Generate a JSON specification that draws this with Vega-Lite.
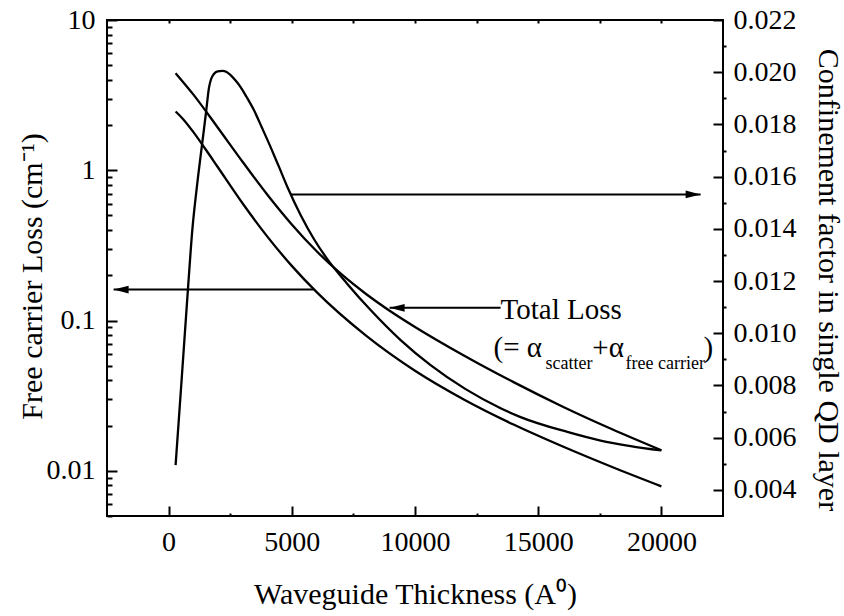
{
  "$schema": "https://vega.github.io/schema/vega-lite/v6.json",
  "width": 616,
  "height": 496,
  "autosize": {"type": "none"},
  "padding": {"left": 107, "top": 20, "right": 121, "bottom": 100},
  "background": "white",
  "config": {
    "view": {"stroke": "black", "strokeWidth": 2},
    "font": "Times New Roman, Liberation Serif, serif",
    "axis": {
      "domain": false,
      "grid": false,
      "tickColor": "black",
      "tickWidth": 2,
      "labelFont": "Times New Roman, Liberation Serif, serif",
      "labelFontSize": 28,
      "labelColor": "black",
      "labelFlush": false,
      "labelOverlap": false,
      "titleFont": "Times New Roman, Liberation Serif, serif",
      "titleFontSize": 30,
      "titleFontWeight": "normal",
      "titleColor": "black"
    }
  },
  "datasets": {
    "freeCarrier": [
      {"thickness": 284, "loss": 2.46},
      {"thickness": 600, "loss": 2.18},
      {"thickness": 1000, "loss": 1.8},
      {"thickness": 1500, "loss": 1.38},
      {"thickness": 2000, "loss": 1.047},
      {"thickness": 3000, "loss": 0.603},
      {"thickness": 4000, "loss": 0.363},
      {"thickness": 5000, "loss": 0.231},
      {"thickness": 6000, "loss": 0.155},
      {"thickness": 8000, "loss": 0.0796},
      {"thickness": 10000, "loss": 0.0463},
      {"thickness": 12000, "loss": 0.0297},
      {"thickness": 14000, "loss": 0.0203},
      {"thickness": 16000, "loss": 0.01449},
      {"thickness": 18000, "loss": 0.01059},
      {"thickness": 20000, "loss": 0.00787}
    ],
    "totalLoss": [
      {"thickness": 284, "loss": 4.43},
      {"thickness": 1000, "loss": 3.2},
      {"thickness": 2000, "loss": 1.919},
      {"thickness": 3000, "loss": 1.14},
      {"thickness": 4000, "loss": 0.69},
      {"thickness": 5000, "loss": 0.436},
      {"thickness": 6000, "loss": 0.29},
      {"thickness": 7000, "loss": 0.204},
      {"thickness": 8000, "loss": 0.1507},
      {"thickness": 9000, "loss": 0.1153},
      {"thickness": 10000, "loss": 0.0906},
      {"thickness": 12000, "loss": 0.0583},
      {"thickness": 14000, "loss": 0.0389},
      {"thickness": 16000, "loss": 0.0267},
      {"thickness": 18000, "loss": 0.0189},
      {"thickness": 20000, "loss": 0.0137}
    ],
    "confinement": [
      {"thickness": 284, "gamma": 0.00495},
      {"thickness": 528, "gamma": 0.00821},
      {"thickness": 783, "gamma": 0.01166},
      {"thickness": 962, "gamma": 0.01395},
      {"thickness": 1157, "gamma": 0.01568},
      {"thickness": 1380, "gamma": 0.0174},
      {"thickness": 1530, "gamma": 0.01855},
      {"thickness": 1636, "gamma": 0.01939},
      {"thickness": 1725, "gamma": 0.01974},
      {"thickness": 1838, "gamma": 0.01993},
      {"thickness": 1989, "gamma": 0.02003},
      {"thickness": 2179, "gamma": 0.02005},
      {"thickness": 2354, "gamma": 0.02001},
      {"thickness": 2516, "gamma": 0.01989},
      {"thickness": 2719, "gamma": 0.01968},
      {"thickness": 2922, "gamma": 0.01943},
      {"thickness": 3166, "gamma": 0.01905},
      {"thickness": 3462, "gamma": 0.01855},
      {"thickness": 3795, "gamma": 0.01786},
      {"thickness": 4140, "gamma": 0.01713},
      {"thickness": 4464, "gamma": 0.01641},
      {"thickness": 4817, "gamma": 0.01561},
      {"thickness": 5357, "gamma": 0.01453},
      {"thickness": 5897, "gamma": 0.01361},
      {"thickness": 6441, "gamma": 0.01284},
      {"thickness": 7253, "gamma": 0.01189},
      {"thickness": 8198, "gamma": 0.01089},
      {"thickness": 9416, "gamma": 0.00974},
      {"thickness": 10633, "gamma": 0.00878},
      {"thickness": 12054, "gamma": 0.00786},
      {"thickness": 13474, "gamma": 0.00713},
      {"thickness": 14286, "gamma": 0.00679},
      {"thickness": 16181, "gamma": 0.00622},
      {"thickness": 17532, "gamma": 0.00589},
      {"thickness": 18750, "gamma": 0.00568},
      {"thickness": 20000, "gamma": 0.00551}
    ],
    "leftArrows": [
      {"thickness": 5885, "end": -2232, "loss": 0.1607},
      {"thickness": 13474, "end": 8969, "loss": 0.1215}
    ],
    "leftArrowTips": [
      {"thickness": -2232, "loss": 0.1607},
      {"thickness": 8969, "loss": 0.1215}
    ],
    "rightArrow": [
      {"thickness": 4951, "end": 21591, "gamma": 0.01532}
    ],
    "rightArrowTip": [
      {"thickness": 21591, "gamma": 0.01532}
    ],
    "mainText": [
      {"thickness": 13474, "loss": 0.1031, "label": "Total Loss"},
      {"thickness": 13190, "loss": 0.0568, "label": "(= α"},
      {"thickness": 17195, "loss": 0.0568, "label": "+α"},
      {"thickness": 21713, "loss": 0.0568, "label": ")"}
    ],
    "subText": [
      {"thickness": 15300, "loss": 0.04725, "label": "scatter"},
      {"thickness": 18547, "loss": 0.04725, "label": "free carrier"}
    ]
  },
  "layer": [
    {
      "layer": [
        {
          "data": {"name": "freeCarrier"},
          "mark": {"type": "line", "color": "black", "strokeWidth": 2.3, "interpolate": "monotone"},
          "encoding": {
            "x": {
              "field": "thickness", "type": "quantitative",
              "scale": {"domain": [-2500, 22500], "nice": false, "zero": false},
              "axis": {
                "orient": "bottom", "offset": -10, "tickSize": 10,
                "values": [0, 5000, 10000, 15000, 20000], "format": "d",
                "labelPadding": 12,
                "title": "Waveguide Thickness (A⁰)",
                "titleY": 97, "titleBaseline": "alphabetic"
              }
            },
            "y": {
              "field": "loss", "type": "quantitative",
              "scale": {"type": "log", "domain": [0.005, 10], "nice": false},
              "axis": {
                "orient": "left", "offset": -10, "tickSize": 10,
                "values": [0.01, 0.1, 1, 10], "format": "~g",
                "labelPadding": 12,
                "title": "Free carrier Loss (cm⁻¹)",
                "titleX": -76, "titleY": 256, "titleAngle": 270,
                "titleAlign": "center", "titleBaseline": "alphabetic"
              }
            }
          }
        },
        {
          "data": {"name": "totalLoss"},
          "mark": {"type": "line", "color": "black", "strokeWidth": 2.3, "interpolate": "monotone"},
          "encoding": {
            "x": {
              "field": "thickness", "type": "quantitative",
              "scale": {"domain": [-2500, 22500], "nice": false, "zero": false},
              "axis": {
                "orient": "bottom", "offset": -3, "tickSize": 3,
                "values": [2500, 7500, 12500, 17500],
                "labels": false, "title": null
              }
            },
            "y": {
              "field": "loss", "type": "quantitative",
              "scale": {"type": "log", "domain": [0.005, 10], "nice": false},
              "axis": {
                "orient": "left", "offset": -5, "tickSize": 5,
                "values": [0.005, 0.006, 0.007, 0.008, 0.009, 0.02, 0.03, 0.04, 0.05, 0.06, 0.07, 0.08, 0.09, 0.2, 0.3, 0.4, 0.5, 0.6, 0.7, 0.8, 0.9, 2, 3, 4, 5, 6, 7, 8, 9],
                "labels": false, "title": null
              }
            }
          }
        },
        {
          "data": {"name": "leftArrows"},
          "mark": {"type": "rule", "color": "black", "strokeWidth": 2},
          "encoding": {
            "x": {
              "field": "thickness", "type": "quantitative",
              "scale": {"domain": [-2500, 22500], "nice": false, "zero": false},
              "axis": {
                "orient": "top", "offset": -3, "tickSize": 3,
                "values": [0, 2500, 5000, 7500, 10000, 12500, 15000, 17500, 20000],
                "labels": false, "title": null
              }
            },
            "x2": {"field": "end"},
            "y": {
              "field": "loss", "type": "quantitative",
              "scale": {"type": "log", "domain": [0.005, 10], "nice": false},
              "axis": null
            }
          }
        },
        {
          "data": {"name": "leftArrowTips"},
          "mark": {"type": "point", "shape": "M0,0L1,-0.26L1,0.26Z", "filled": true, "color": "black", "opacity": 1, "size": 900},
          "encoding": {
            "x": {"field": "thickness", "type": "quantitative", "scale": {"domain": [-2500, 22500], "nice": false, "zero": false}, "axis": null},
            "y": {"field": "loss", "type": "quantitative", "scale": {"type": "log", "domain": [0.005, 10], "nice": false}, "axis": null}
          }
        },
        {
          "data": {"name": "mainText"},
          "mark": {"type": "text", "align": "left", "baseline": "alphabetic", "font": "Times New Roman, Liberation Serif, serif", "fontSize": 29, "color": "black"},
          "encoding": {
            "x": {"field": "thickness", "type": "quantitative", "scale": {"domain": [-2500, 22500], "nice": false, "zero": false}, "axis": null},
            "y": {"field": "loss", "type": "quantitative", "scale": {"type": "log", "domain": [0.005, 10], "nice": false}, "axis": null},
            "text": {"field": "label"}
          }
        },
        {
          "data": {"name": "subText"},
          "mark": {"type": "text", "align": "left", "baseline": "alphabetic", "font": "Times New Roman, Liberation Serif, serif", "fontSize": 18, "color": "black"},
          "encoding": {
            "x": {"field": "thickness", "type": "quantitative", "scale": {"domain": [-2500, 22500], "nice": false, "zero": false}, "axis": null},
            "y": {"field": "loss", "type": "quantitative", "scale": {"type": "log", "domain": [0.005, 10], "nice": false}, "axis": null},
            "text": {"field": "label"}
          }
        }
      ],
      "resolve": {"axis": {"x": "independent", "y": "independent"}}
    },
    {
      "layer": [
        {
          "data": {"name": "confinement"},
          "mark": {"type": "line", "color": "black", "strokeWidth": 2.3, "interpolate": "monotone"},
          "encoding": {
            "x": {"field": "thickness", "type": "quantitative", "scale": {"domain": [-2500, 22500], "nice": false, "zero": false}, "axis": null},
            "y": {
              "field": "gamma", "type": "quantitative",
              "scale": {"domain": [0.003, 0.022], "nice": false, "zero": false},
              "axis": {
                "orient": "right", "offset": -10, "tickSize": 10,
                "values": [0.004, 0.006, 0.008, 0.01, 0.012, 0.014, 0.016, 0.018, 0.02, 0.022],
                "format": ".3f", "labelPadding": 10,
                "title": "Confinement factor in single QD layer",
                "titleX": 105, "titleY": 259.5, "titleAngle": 90,
                "titleAlign": "center", "titleBaseline": "alphabetic"
              }
            }
          }
        },
        {
          "data": {"name": "rightArrow"},
          "mark": {"type": "rule", "color": "black", "strokeWidth": 2},
          "encoding": {
            "x": {"field": "thickness", "type": "quantitative", "scale": {"domain": [-2500, 22500], "nice": false, "zero": false}, "axis": null},
            "x2": {"field": "end"},
            "y": {
              "field": "gamma", "type": "quantitative",
              "scale": {"domain": [0.003, 0.022], "nice": false, "zero": false},
              "axis": {
                "orient": "right", "offset": 0, "tickSize": 3,
                "values": [0.005, 0.007, 0.009, 0.011, 0.013, 0.015, 0.017, 0.019, 0.021],
                "labels": false, "title": null
              }
            }
          }
        },
        {
          "data": {"name": "rightArrowTip"},
          "mark": {"type": "point", "shape": "M0,0L-1,-0.26L-1,0.26Z", "filled": true, "color": "black", "opacity": 1, "size": 900},
          "encoding": {
            "x": {"field": "thickness", "type": "quantitative", "scale": {"domain": [-2500, 22500], "nice": false, "zero": false}, "axis": null},
            "y": {"field": "gamma", "type": "quantitative", "scale": {"domain": [0.003, 0.022], "nice": false, "zero": false}, "axis": null}
          }
        }
      ],
      "resolve": {"axis": {"x": "independent", "y": "independent"}}
    }
  ],
  "resolve": {"scale": {"y": "independent"}, "axis": {"x": "independent", "y": "independent"}}
}
